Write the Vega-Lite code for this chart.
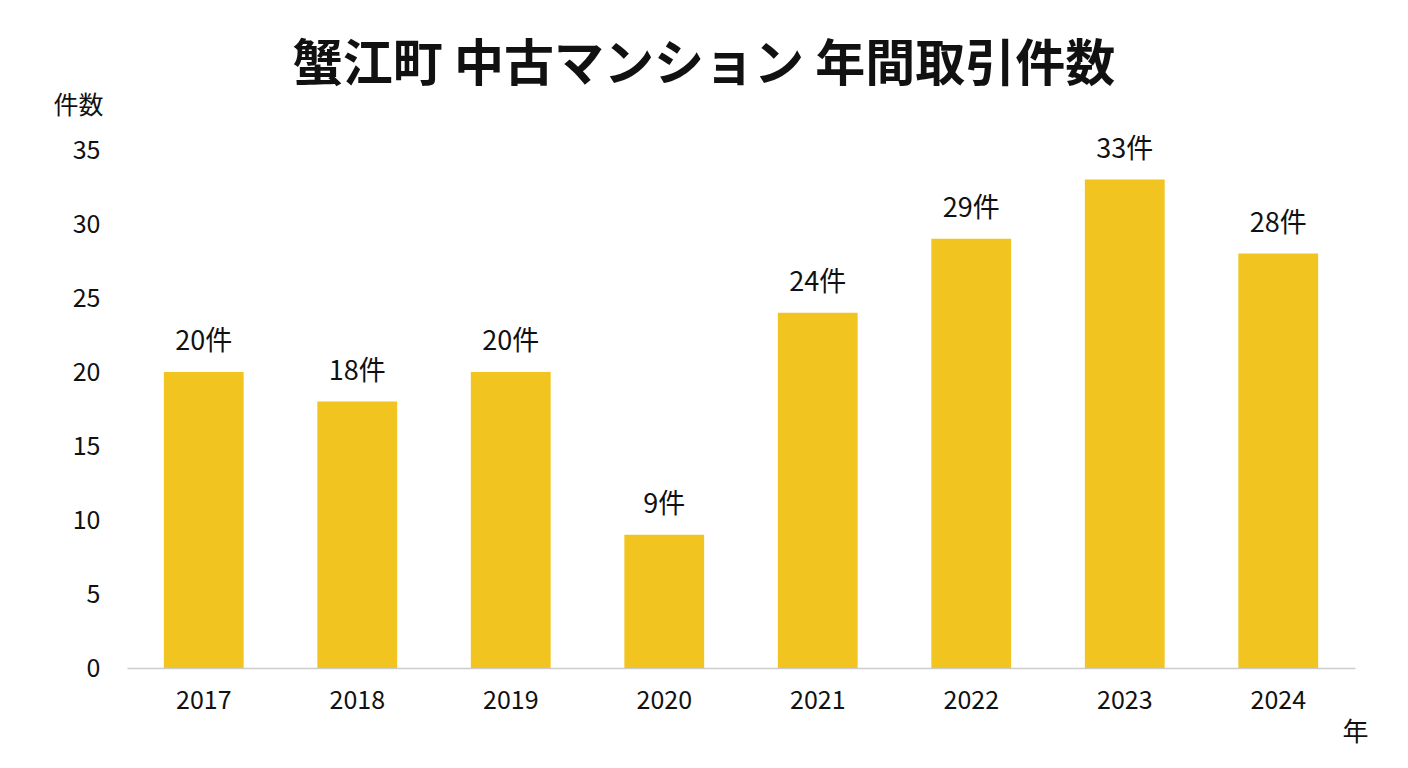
{
  "$schema": "https://vega.github.io/schema/vega-lite/v6.json",
  "autosize": "none",
  "width": 1228,
  "height": 518,
  "padding": {"left": 127, "top": 150, "right": 53, "bottom": 100},
  "background": "white",
  "title": {
    "text": "蟹江町 中古マンション 年間取引件数",
    "font": "Noto Sans CJK JP",
    "fontSize": 50,
    "fontWeight": "bold",
    "color": "#111111",
    "anchor": "middle",
    "frame": "group",
    "baseline": "middle",
    "dx": -37,
    "offset": -23
  },
  "data": {
    "values": [
      {"year": "2017", "count": 20},
      {"year": "2018", "count": 18},
      {"year": "2019", "count": 20},
      {"year": "2020", "count": 9},
      {"year": "2021", "count": 24},
      {"year": "2022", "count": 29},
      {"year": "2023", "count": 33},
      {"year": "2024", "count": 28}
    ]
  },
  "encoding": {
    "x": {
      "field": "year",
      "type": "ordinal",
      "scale": {"paddingInner": 0.48, "paddingOuter": 0.24},
      "axis": {
        "title": "年",
        "labelAngle": 0,
        "labelFontSize": 25,
        "labelPadding": 20,
        "ticks": false,
        "domainColor": "#cccccc",
        "domainWidth": 1.5,
        "titleFontSize": 26,
        "titleFontWeight": "normal",
        "titleAngle": 0,
        "titleX": 1228,
        "titleY": 64,
        "titleAlign": "center",
        "titleBaseline": "middle"
      }
    },
    "y": {
      "field": "count",
      "type": "quantitative",
      "scale": {"domain": [0, 35]},
      "axis": {
        "title": "件数",
        "values": [0, 5, 10, 15, 20, 25, 30, 35],
        "grid": false,
        "domain": false,
        "ticks": false,
        "labelFontSize": 25,
        "labelPadding": 27,
        "titleFontSize": 25,
        "titleFontWeight": "normal",
        "titleAngle": 0,
        "titleX": -49,
        "titleY": -45,
        "titleAlign": "center",
        "titleBaseline": "middle"
      }
    }
  },
  "layer": [
    {
      "mark": {"type": "bar", "color": "#F2C420"}
    },
    {
      "mark": {
        "type": "text",
        "dy": -30,
        "baseline": "middle",
        "fontSize": 27,
        "font": "Noto Sans CJK JP",
        "color": "#111111"
      },
      "encoding": {
        "text": {"field": "label", "type": "nominal"}
      },
      "transform": [{"calculate": "datum.count + '件'", "as": "label"}]
    }
  ],
  "config": {
    "font": "Noto Sans CJK JP",
    "view": {"stroke": null},
    "axis": {
      "labelFont": "Noto Sans CJK JP",
      "titleFont": "Noto Sans CJK JP",
      "labelColor": "#111111",
      "titleColor": "#111111"
    }
  }
}
